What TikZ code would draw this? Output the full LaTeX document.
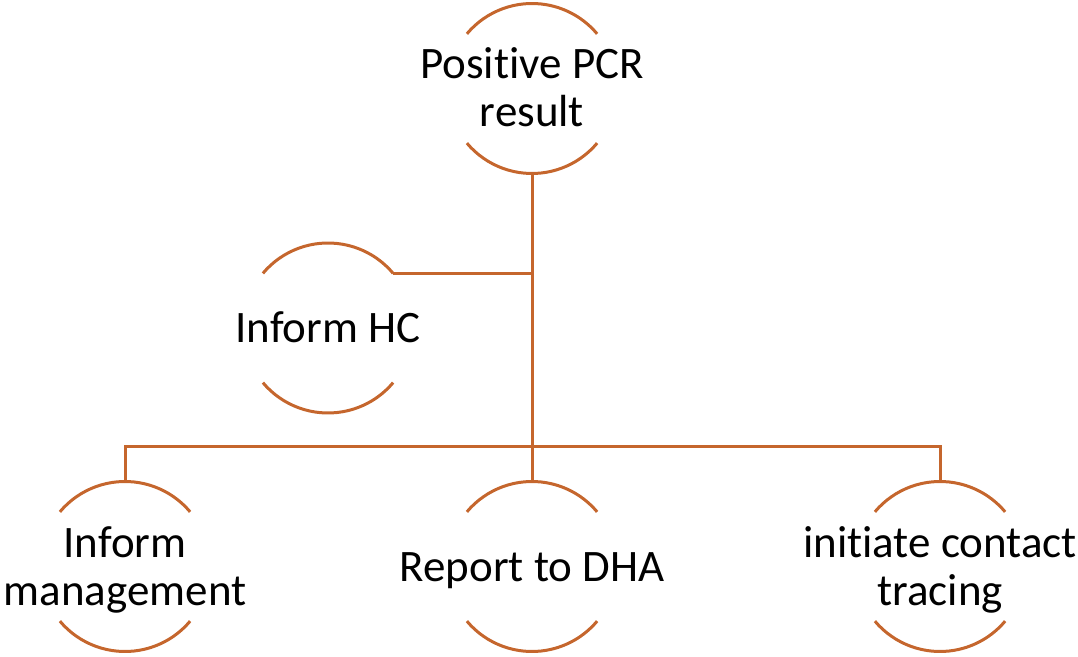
\documentclass[tikz,border=0pt]{standalone}
\usepackage{fontspec}
\setmainfont{Carlito}[Ligatures=NoCommon]
\usetikzlibrary{backgrounds}
\definecolor{ringbrown}{RGB}{197,102,45}
\newcommand{\ringcolor}{ringbrown}
\newcommand{\thickness}{3pt}
\newcommand{\radius}{85pt}

\begin{document}
\begin{tikzpicture}[x=1pt,y=1pt,
  ring/.style={circle,minimum size=2*\radius,inner sep=0pt,outer sep=0pt},
  caption/.style={align=center,inner sep=0pt,text height=29pt,text depth=0pt,font=\fontsize{45}{48}\selectfont},
  twoline/.style={text height=77pt},
  tube/.style={\ringcolor,line width=\thickness}]
\useasboundingbox (0,0) rectangle (1078,656);
% rings
\node[ring] (pcr) at (532,567.5) {};
\node[ring] (hc) at (328,328) {};
\node[ring] (mgmt) at (125,89.5) {};
\node[ring] (dha) at (532,89.5) {};
\node[ring] (trace) at (940,89.5) {};
% texts
\node[caption,twoline] (pcrtext) at (pcr) {Positive PCR\\result};
\node[caption] (hctext) at (hc) {Inform HC};
\node[caption,twoline] (mgmttext) at (mgmt) {Inform\\management};
\node[caption] (dhatext) at (dha) {Report to DHA};
\node[caption,twoline] (tracetext) at (trace) {initiate contact\\tracing};
% arcs
\draw[tube] (pcr.140) arc (140:40:\radius);
\draw[tube] (pcr.220) arc (220:320:\radius);
\draw[tube] (hc.140) arc (140:40:\radius);
\draw[tube] (hc.220) arc (220:320:\radius);
\draw[tube] (mgmt.140) arc (140:40:\radius);
\draw[tube] (mgmt.220) arc (220:320:\radius);
\draw[tube] (dha.140) arc (140:40:\radius);
\draw[tube] (dha.220) arc (220:320:\radius);
\draw[tube] (trace.140) arc (140:40:\radius);
\draw[tube] (trace.220) arc (220:320:\radius);
% connectors
\coordinate (bus) at (532,209);
\draw[tube] (pcr.south) -- (dha.north);
\draw[tube] (hc.40) -- (hc.40 -| pcr.south);
\draw[tube] (mgmt.north) |- (bus) -| (trace.north);
\end{tikzpicture}
\end{document}
